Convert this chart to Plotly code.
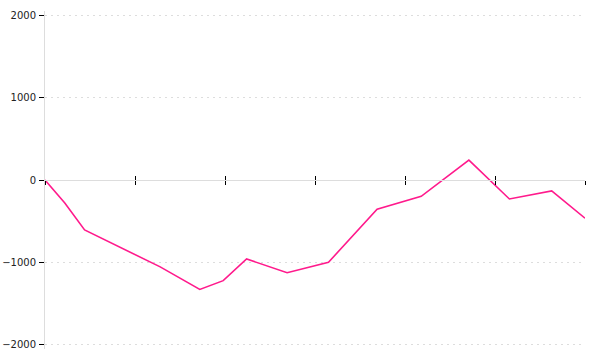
import plotly.graph_objects as go

# data (x in arbitrary time units, 0..60)
x_vals = [0, 2.2, 4.4, 12.8, 17.2, 19.8, 22.4, 26.9, 31.5, 36.9, 41.8, 47.1, 51.6, 56.3, 60]
y_vals = [0, -279, -606, -1054, -1327, -1221, -958, -1124, -998, -355, -198, 242, -230, -133, -464]
y_ticks = [-2000, -1000, 0, 1000, 2000]
x_ticks = [0, 10, 20, 30, 40, 50, 60]

fig = go.Figure()
fig.add_trace(go.Scatter(x=x_vals, y=y_vals, mode="lines",
                         line=dict(color="#ff1a8c", width=1.6),
                         hoverinfo="skip", showlegend=False))

xcommon = dict(range=[0, 60], tickvals=x_ticks, showticklabels=False,
               showgrid=False, zeroline=False, ticklen=4, tickwidth=1,
               tickcolor="#000", anchor="free", position=0.5, fixedrange=True,
               automargin=False)

fig.update_layout(
    width=600, height=360,
    margin=dict(l=45, r=15, t=11, b=11, autoexpand=False),
    paper_bgcolor="white", plot_bgcolor="white",
    xaxis=dict(**xcommon, ticks="outside", showline=True, linecolor="#dddddd", linewidth=1),
    xaxis2=dict(**xcommon, ticks="inside", showline=False, overlaying="x"),
    yaxis=dict(range=[-2050, 2050], tickvals=y_ticks, ticks="outside", ticklen=5,
               tickcolor="#000", tickwidth=1, showline=True, linecolor="#dddddd",
               linewidth=1, showgrid=True, gridcolor="#dddddd", griddash="2px,4px",
               gridwidth=1, zeroline=False, automargin=False,
               tickfont=dict(family="DejaVu Sans", size=10, color="#222"),
               ticklabelstandoff=1, fixedrange=True),
)
fig.add_trace(go.Scatter(x=[], y=[], xaxis="x2", showlegend=False))
fig.write_html("out.html", config={"displayModeBar": False})
